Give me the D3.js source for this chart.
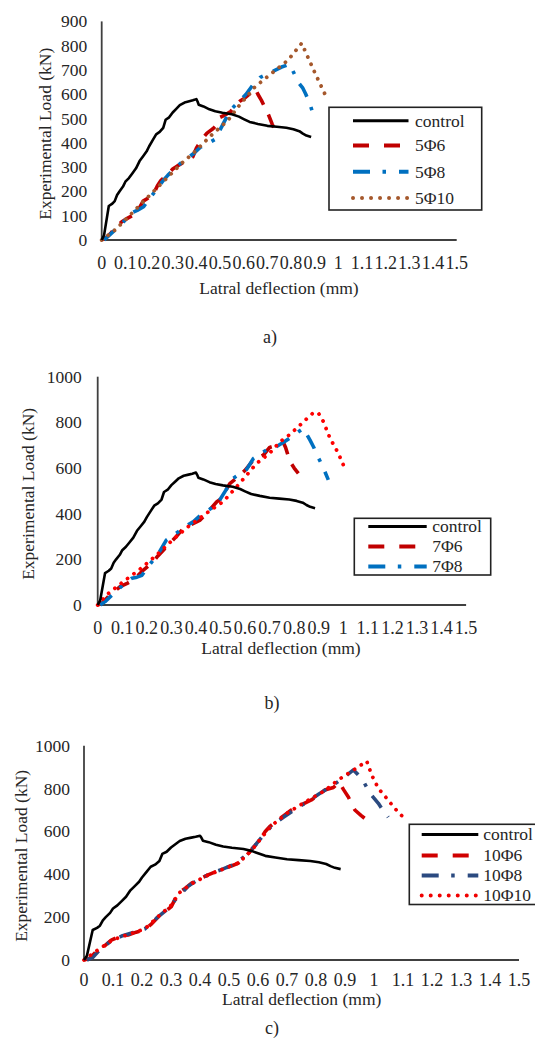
<!DOCTYPE html>
<html>
<head>
<meta charset="utf-8">
<script src="https://cdn.jsdelivr.net/npm/d3@7"></script>
<style>
  html, body { margin: 0; padding: 0; background: #ffffff; }
  svg { display: block; }
</style>
</head>
<body>
<svg id="fig" width="535" height="1038"></svg>
<script>
// ---- Load–deflection data: [lateral deflection (mm), load (kN)] ----

// Unstrengthened column, shared by all three figures
const control = [[0,0],[0.01,20],[0.03,140],[0.045,150],[0.055,160],[0.065,185],[0.075,200],[0.09,220],
  [0.1,240],[0.115,255],[0.13,275],[0.145,295],[0.16,325],[0.175,345],[0.19,365],[0.2,385],[0.215,410],
  [0.23,435],[0.245,445],[0.26,462],[0.27,495],[0.285,505],[0.3,525],[0.315,540],[0.33,555],[0.35,566],
  [0.37,571],[0.385,575],[0.4,580],[0.405,570],[0.41,557],[0.43,550],[0.455,538],[0.48,530],[0.51,524],
  [0.55,518],[0.58,508],[0.6,498],[0.625,486],[0.66,478],[0.7,470],[0.74,466],[0.78,462],[0.81,456],
  [0.835,448],[0.85,438],[0.865,430],[0.885,424]];

// Figure a) - 5 bars
const s5phi6 = [[0,0],[0.02,10],[0.04,30],[0.06,52],[0.085,75],[0.11,90],[0.135,103],[0.155,125],[0.175,160],
  [0.195,172],[0.22,192],[0.235,222],[0.25,245],[0.275,267],[0.3,292],[0.32,305],[0.34,316],[0.36,325],
  [0.385,343],[0.4,378],[0.42,410],[0.445,440],[0.47,458],[0.49,478],[0.5,505],[0.52,514],[0.545,529],
  [0.565,552],[0.585,572],[0.605,585],[0.625,602],[0.648,624],[0.66,600],[0.675,575],[0.69,545],
  [0.705,515],[0.72,478],[0.73,455]];
const s5phi8 = [[0.01,0],[0.03,18],[0.06,45],[0.09,72],[0.11,95],[0.128,112],[0.15,122],[0.177,137],[0.2,168],
  [0.23,205],[0.26,245],[0.28,267],[0.31,295],[0.34,322],[0.36,336],[0.39,357],[0.417,382],[0.45,398],
  [0.48,415],[0.51,472],[0.542,533],[0.578,568],[0.61,600],[0.64,640],[0.67,670],[0.7,684],[0.725,695],
  [0.76,712],[0.795,724],[0.81,692],[0.83,650],[0.85,625],[0.862,601],[0.88,560],[0.894,515]];
const s5phi10 = [[0,0],[0.056,41],[0.113,96],[0.183,165],[0.253,233],[0.338,316],[0.394,364],[0.464,432],
  [0.535,494],[0.577,549],[0.648,631],[0.718,686],[0.788,741],[0.845,810],[0.9,690],[0.955,576]];

// Figure b) - 7 bars
const s7phi6 = [[0,0],[0.02,10],[0.05,45],[0.07,62],[0.091,80],[0.12,95],[0.145,110],[0.165,130],[0.186,153],
  [0.205,170],[0.226,190],[0.245,215],[0.267,240],[0.294,270],[0.32,300],[0.349,336],[0.38,352],[0.417,372],
  [0.45,410],[0.485,452],[0.505,467],[0.52,500],[0.539,533],[0.573,562],[0.6,590],[0.634,635],[0.675,657],
  [0.7,690],[0.73,700],[0.756,712],[0.765,690],[0.783,628],[0.8,600],[0.817,577]];
const s7phi8 = [[0.01,0],[0.03,15],[0.06,45],[0.09,75],[0.115,100],[0.139,117],[0.16,122],[0.18,130],[0.2,160],
  [0.225,195],[0.25,230],[0.28,285],[0.31,307],[0.34,330],[0.366,350],[0.39,365],[0.417,392],[0.45,415],
  [0.485,440],[0.52,500],[0.552,555],[0.58,575],[0.607,595],[0.634,642],[0.66,660],[0.689,680],[0.73,695],
  [0.76,715],[0.8,745],[0.837,774],[0.85,750],[0.864,723],[0.88,690],[0.896,650],[0.915,610],[0.925,584],
  [0.939,548]];
const s7phi10 = [[0,0],[0.036,44],[0.104,102],[0.17,155],[0.24,219],[0.31,290],[0.376,350],[0.44,400],
  [0.511,453],[0.566,518],[0.647,620],[0.7,665],[0.742,715],[0.78,745],[0.824,788],[0.86,825],[0.878,842],
  [0.898,842],[0.919,803],[0.946,730],[0.98,664],[1.007,596]];

// Figure c) - 10 bars
const s10phi6 = [[0,0],[0.02,8],[0.048,47],[0.07,65],[0.094,93],[0.12,108],[0.152,117],[0.18,130],[0.209,140],
  [0.23,165],[0.255,200],[0.28,225],[0.301,249],[0.324,311],[0.35,335],[0.37,358],[0.4,380],[0.428,397],
  [0.455,412],[0.485,428],[0.51,440],[0.531,451],[0.555,480],[0.577,513],[0.606,560],[0.625,600],[0.64,622],
  [0.669,653],[0.69,675],[0.715,700],[0.75,725],[0.784,747],[0.81,770],[0.83,793],[0.86,805],[0.88,830],
  [0.895,795],[0.911,762],[0.934,700],[0.955,675],[0.975,653]];
const s10phi8 = [[0.01,0],[0.03,12],[0.06,55],[0.09,85],[0.13,112],[0.17,128],[0.21,145],[0.25,195],[0.29,240],
  [0.32,290],[0.36,345],[0.4,380],[0.44,405],[0.48,425],[0.52,448],[0.56,490],[0.59,535],[0.62,585],
  [0.65,630],[0.69,668],[0.73,705],[0.77,738],[0.81,775],[0.85,808],[0.89,845],[0.929,887],[0.945,865],
  [0.96,843],[0.986,778],[1.015,731],[1.03,700],[1.049,666]];
const s10phi10 = [[0,0],[0.048,47],[0.1,95],[0.16,122],[0.21,145],[0.255,202],[0.3,255],[0.33,315],[0.37,355],
  [0.43,398],[0.49,430],[0.535,455],[0.58,515],[0.606,560],[0.645,625],[0.7,685],[0.76,735],[0.83,790],
  [0.876,840],[0.92,878],[0.95,905],[0.975,928],[0.992,863],[1.015,801],[1.044,754],[1.072,707],[1.101,666]];

// Axis ticks
const xTicks = d3.range(0, 16).map(i => i / 10);
const xTickLabels = ["0","0.1","0.2","0.3","0.4","0.5","0.6","0.7","0.8","0.9","1","1.1","1.2","1.3","1.4","1.5"];
const yTicksA = [0,100,200,300,400,500,600,700,800,900];
const yTicksBC = [0,200,400,600,800,1000];

// ---- Line styles ----
const FONT = "\"Liberation Serif\", serif";
const styles = {
  control: { width: 2.6, dash: null, cap: "butt", key: null },
  dash:    { width: 3.6, dash: "14,11", cap: "butt", key: "16,15" },
  dashDot: { width: 3.6, dash: "15,11,3.5,11", cap: "butt", key: "17,12.5,3.5,13" },
  dot:     { width: 3.8, dash: "0.01,8", cap: "round", key: "0.01,9" }
};

const panels = [
  {
    box: { left: 101.7, right: 456.7, top: 21.4, bottom: 240 }, yMax: 900, yTicks: yTicksA, yLabelGap: 14.5,
    yTitleX: 45, xTitle: { x: 279, y: 294 }, tickLabelY: 269, caption: { text: "a)", x: 270, y: 343 },
    series: [
      { name: "control", data: control, st: styles.control, color: "#000000" },
      { name: "5\u03A66", data: s5phi6, st: styles.dash, color: "#C00000" },
      { name: "5\u03A68", data: s5phi8, st: styles.dashDot, color: "#0070C0" },
      { name: "5\u03A610", data: s5phi10, st: styles.dot, color: "#A5582C" }
    ],
    legend: { x0: 329, y0: 107.3, x1: 481.7, y1: 210, rows: [120.7, 145.5, 171.7, 198], sx0: 353, sx1: 408.5, tx: 415 }
  },
  {
    box: { left: 97.7, right: 466.1, top: 376.7, bottom: 605 }, yMax: 1000, yTicks: yTicksBC, yLabelGap: 16,
    yTitleX: 28.5, xTitle: { x: 281, y: 653.5 }, tickLabelY: 634, caption: { text: "b)", x: 272, y: 709 },
    series: [
      { name: "control", data: control, st: styles.control, color: "#000000" },
      { name: "7\u03A66", data: s7phi6, st: styles.dash, color: "#C00000" },
      { name: "7\u03A68", data: s7phi8, st: styles.dashDot, color: "#0070C0" },
      { name: null, data: s7phi10, st: styles.dot, color: "#FF0000" }
    ],
    legend: { x0: 354.3, y0: 518.3, x1: 490.7, y1: 575, rows: [526.5, 546.5, 566.5], sx0: 368.3, sx1: 426.7, tx: 432.3 }
  },
  {
    box: { left: 84, right: 519, top: 745.7, bottom: 960 }, yMax: 1000, yTicks: yTicksBC, yLabelGap: 14,
    yTitleX: 20.7, xTitle: { x: 301.7, y: 1004.5 }, tickLabelY: 986, caption: { text: "c)", x: 272, y: 1034 },
    series: [
      { name: "control", data: control, st: styles.control, color: "#000000" },
      { name: "10\u03A66", data: s10phi6, st: styles.dash, color: "#D00000" },
      { name: "10\u03A68", data: s10phi8, st: styles.dashDot, color: "#2B4A80" },
      { name: "10\u03A610", data: s10phi10, st: styles.dot, color: "#F00000" }
    ],
    legend: { x0: 409.3, y0: 824.3, x1: 537, y1: 904.5, rows: [834.5, 855.5, 875.5, 895.5], sx0: 421.7, sx1: 478.3, tx: 483.3 }
  }
];

const svg = d3.select("#fig");
const axisColor = "#404040";

function label(sel, size) {
  return sel.style("font-family", FONT)
    .style("font-size", size + "px").attr("fill", "#262626");
}

panels.forEach(p => {
  const x = d3.scaleLinear().domain([0, 1.5]).range([p.box.left, p.box.right]);
  const y = d3.scaleLinear().domain([0, p.yMax]).range([p.box.bottom, p.box.top]);
  const g = svg.append("g");

  // y tick labels
  label(g.selectAll("text.ytick").data(p.yTicks).join("text"), 17.5)
    .attr("class", "ytick")
    .attr("x", p.box.left - p.yLabelGap)
    .attr("y", d => y(d))
    .attr("dy", "0.34em")
    .attr("text-anchor", "end")
    .text(d => d);

  // x tick labels
  label(g.selectAll("text.xtick").data(xTicks).join("text"), 18)
    .attr("class", "xtick")
    .attr("x", d => x(d))
    .attr("y", p.tickLabelY)
    .attr("text-anchor", "middle")
    .text((d, i) => xTickLabels[i]);

  // axis lines
  g.append("line")
    .attr("x1", x(0)).attr("x2", x(0)).attr("y1", y(0)).attr("y2", y(p.yMax))
    .attr("stroke", axisColor).attr("stroke-width", 1.8);
  g.append("line")
    .attr("x1", x(0)).attr("x2", x(1.5)).attr("y1", y(0)).attr("y2", y(0))
    .attr("stroke", axisColor).attr("stroke-width", 1.8);

  // axis titles
  label(g.append("text"), 17.5)
    .attr("transform", `translate(${p.yTitleX},${(p.box.top + p.box.bottom) / 2 + 3}) rotate(-90)`)
    .attr("text-anchor", "middle")
    .attr("dy", "0.34em")
    .text("Experimental Load (kN)");
  label(g.append("text"), 17.5)
    .attr("x", p.xTitle.x).attr("y", p.xTitle.y)
    .attr("text-anchor", "middle")
    .text("Latral deflection (mm)");

  // series lines, control drawn last so it sits on top
  const line = d3.line().x(d => x(d[0])).y(d => y(d[1]));
  const order = p.series.slice(1).concat([p.series[0]]);
  order.forEach(s => {
    g.append("path")
      .datum(s.data)
      .attr("d", line)
      .attr("fill", "none")
      .attr("stroke", s.color)
      .attr("stroke-width", s.st.width)
      .attr("stroke-dasharray", s.st.dash)
      .attr("stroke-linecap", s.st.cap)
      .attr("stroke-linejoin", "round");
  });

  // legend
  const L = p.legend;
  g.append("rect")
    .attr("x", L.x0).attr("y", L.y0)
    .attr("width", L.x1 - L.x0).attr("height", L.y1 - L.y0)
    .attr("fill", "#ffffff").attr("stroke", "#222222").attr("stroke-width", 1.6);
  p.series.filter(s => s.name).forEach((s, i) => {
    const ry = L.rows[i];
    g.append("line")
      .attr("x1", L.sx0).attr("x2", L.sx1).attr("y1", ry).attr("y2", ry)
      .attr("stroke", s.color)
      .attr("stroke-width", s.st === styles.control ? 3 : 4)
      .attr("stroke-dasharray", s.st.key)
      .attr("stroke-linecap", s.st.cap);
    label(g.append("text"), 17.5)
      .attr("x", L.tx).attr("y", ry)
      .attr("dy", "0.34em")
      .text(s.name);
  });

  // figure caption
  label(g.append("text"), 18)
    .attr("x", p.caption.x).attr("y", p.caption.y)
    .attr("text-anchor", "middle")
    .text(p.caption.text);
});
</script>
</body>
</html>
